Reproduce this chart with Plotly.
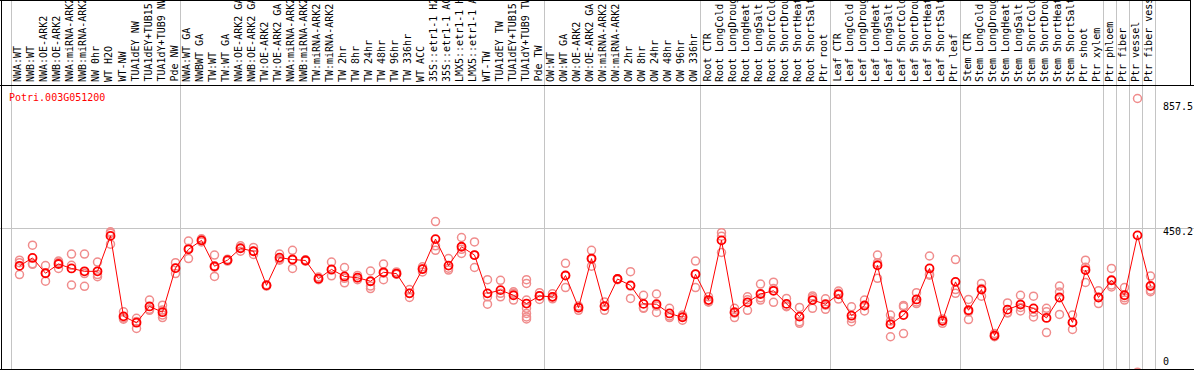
import plotly.graph_objects as go

# ---------------- data ----------------
gene_id = "Potri.003G051200"

samples = [
    "NWA:WT", "NWB:WT", "NWA:OE-ARK2", "NWB:OE-ARK2", "NWA:miRNA-ARK2", "NWB:miRNA-ARK2",
    "NW 0hr", "WT H2O", "WT-NW", "TUA1dEY NW", "TUA1dEY+TUB15 NW", "TUA1dY+TUB9 NW", "Pde NW",
    "NWA:WT GA", "NWBWT GA", "TW:WT", "TW:WT GA", "NWA:OE-ARK2 GA", "NWB:OE-ARK2 GA",
    "TW:OE-ARK2", "TW:OE-ARK2 GA", "NWA:miRNA-ARK2 GA", "NWB:miRNA-ARK2 GA", "TW:miRNA-ARK2",
    "TW:miRNA-ARK2 GA", "TW 2hr", "TW 8hr", "TW 24hr", "TW 48hr", "TW 96hr", "TW 336hr",
    "WT ACC", "35S::etr1-1 H2O", "35S::etr1-1 ACC", "LMX5::etr1-1 H2O", "LMX5::etr1-1 ACC",
    "WT-TW", "TUA1dEY TW", "TUA1dEY+TUB15 TW", "TUA1dY+TUB9 TW", "Pde TW",
    "OW:WT", "OW:WT GA", "OW:OE-ARK2", "OW:OE-ARK2 GA", "OW:miRNA-ARK2", "OW:miRNA-ARK2 GA",
    "OW 2hr", "OW 8hr", "OW 24hr", "OW 48hr", "OW 96hr", "OW 336hr",
    "Root CTR", "Root LongCold", "Root LongDrought", "Root LongHeat", "Root LongSalt",
    "Root ShortCold", "Root ShortDrought", "Root ShortHeat", "Root ShortSalt", "Ptr root",
    "Leaf CTR", "Leaf LongCold", "Leaf LongDrought", "Leaf LongHeat", "Leaf LongSalt",
    "Leaf ShortCold", "Leaf ShortDrought", "Leaf ShortHeat", "Leaf ShortSalt", "Ptr leaf",
    "Stem CTR", "Stem LongCold", "Stem LongDrought", "Stem LongHeat", "Stem LongSalt",
    "Stem ShortCold", "Stem ShortDrought", "Stem ShortHeat", "Stem ShortSalt", "Ptr shoot",
    "Ptr xylem", "Ptr phloem", "Ptr fiber", "Ptr vessel", "Ptr fiber vessel",
]

mean_values = [
    333, 358, 310, 339, 325, 316, 316, 427, 175, 155, 206, 188, 326,
    385, 413, 332, 351, 388, 379, 272, 359, 353, 350, 293, 322, 300, 296, 285, 313, 309,
    247, 323, 417, 334, 393, 367, 247, 257, 241, 215, 239,
    236, 303, 202, 356, 207, 292, 272, 214, 213, 184, 172, 307,
    226, 413, 188, 219, 245, 255, 214, 174, 226, 213,
    244, 177, 209, 335, 150, 179, 228, 325, 161, 283,
    194, 259, 115, 196, 212, 200, 170, 234, 156, 320,
    234, 288, 241, 428.75, 270,
]

replicate_values = [
    [351, 343, 306], [398, 338, 340], [334, 310, 285], [348, 344, 325], [370, 335, 273],
    [370, 309, 269], [345, 299, 306], [440, 435, 401], [189, 170, 166], [169, 159, 137],
    [226, 197, 194], [210, 195, 179, 171], [343, 326, 309],
    [411, 388, 356], [418, 413, 408], [367, 329, 300], [354, 351, 348], [396, 390, 379],
    [391, 379, 369], [274, 272, 270], [370, 354, 351], [382, 353, 325], [352, 350, 348],
    [298, 292, 290], [345, 320, 302], [328, 294, 280], [303, 296, 290], [317, 270, 262],
    [339, 310, 290], [314, 307, 307], [259, 247, 234], [330, 323, 314], [472, 396, 382],
    [356, 326, 320], [422, 385, 372], [408, 366, 328], [290, 236, 213], [288, 247, 236],
    [252, 247, 226], [290, 278, 226, 200, 184, 173, 167], [249, 239, 228],
    [246, 236, 230], [341, 303, 265], [207, 202, 194], [382, 354, 332], [220, 206, 194],
    [293, 292, 290], [315, 270, 231], [241, 202, 200], [245, 207, 187], [200, 176, 171],
    [179, 174, 163], [348, 307, 265],
    [236, 220, 220], [437, 426, 375], [200, 185, 171], [236, 227, 194], [276, 233, 226],
    [282, 262, 219], [231, 207, 205], [203, 158, 153], [239, 233, 200], [230, 210, 197],
    [254, 247, 229], [205, 168, 158], [226, 209, 192], [367, 343, 294], [179, 160, 111],
    [209, 205, 121], [249, 220, 215], [364, 307, 304], [167, 161, 153], [353, 259, 247],
    [228, 189, 165], [278, 262, 238], [121, 113, 111], [217, 186, 186], [241, 203, 192],
    [238, 188, 173], [200, 189, 124], [270, 251, 181], [179, 155, 134], [351, 329, 281],
    [255, 234, 215], [325, 273, 267], [265, 233, 226], [857.5, 0], [301, 257, 252],
]

# index of the first sample of each group (last entry = end)
group_starts = [0, 13, 41, 53, 63, 73, 84, 85, 86, 87, 88]
y_tick_values = [857.5, 450.2, 0]
y_tick_labels = ["857.5", "450.2", "0"]
grid_value = 450.2

# ---------------- styling / geometry ----------------
W, H = 1194, 370
TOP, BOT = 85, 369          # plot area pixel rows
FONT = "DejaVu Sans Mono"
GRAY = "#C4C4C4"
RED = "#FF0000"
REP = "#F08C8C"


def px(p):
    return p / W


def py(p):
    return (BOT - p) / (BOT - TOP)


x_range = [-1.5, (W - 19.5) / 13.0]
y_range = [10.0, 899.8]


def y_to_pixel(v):
    return TOP + (y_range[1] - v) / (y_range[1] - y_range[0]) * (BOT - TOP)


fig = go.Figure()

rx, ry = [], []
for i, reps in enumerate(replicate_values):
    for r in reps:
        rx.append(i)
        ry.append(r)

fig.add_trace(go.Scatter(
    x=rx, y=ry, mode="markers",
    marker=dict(symbol="circle-open", size=8, color=REP, line=dict(width=1.5, color=REP)),
    hoverinfo="skip", showlegend=False,
))
fig.add_trace(go.Scatter(
    x=list(range(len(samples))), y=mean_values, mode="lines+markers",
    line=dict(color=RED, width=1),
    marker=dict(symbol="circle-open", size=8, color=RED, line=dict(width=1.8, color=RED)),
    showlegend=False,
))

shapes = []
# group separators (gray vertical lines through labels and plot)
for b in group_starts:
    shapes.append(dict(type="line", xref="x", yref="paper",
                       x0=b - 8 / 13, x1=b - 8 / 13, y0=py(369.5), y1=py(0),
                       line=dict(color=GRAY, width=1), layer="below"))
# horizontal grid line
shapes.append(dict(type="line", xref="paper", yref="y", x0=0, x1=1,
                   y0=grid_value, y1=grid_value, line=dict(color=GRAY, width=1), layer="below"))
# black frame lines
black = dict(color="black", width=1)
shapes += [
    dict(type="line", xref="paper", yref="paper", x0=0, x1=1, y0=py(85.5), y1=py(85.5), line=black),
    dict(type="line", xref="paper", yref="paper", x0=0, x1=1, y0=py(369.5), y1=py(369.5), line=black),
    dict(type="line", xref="paper", yref="paper", x0=px(1.5), x1=px(1.5), y0=py(0), y1=py(369.5), line=black),
    dict(type="line", xref="paper", yref="paper", x0=0, x1=px(1190.5), y0=py(0.5), y1=py(0.5), line=black),
    dict(type="line", xref="paper", yref="paper", x0=px(1190.5), x1=px(1190.5), y0=py(0), y1=py(85.5), line=black),
]

annotations = []
for i, name in enumerate(samples):
    annotations.append(dict(
        x=i, xref="x", xshift=-1.5, y=py(84), yref="paper", yanchor="bottom", xanchor="center",
        text=name, textangle=-90, showarrow=False,
        font=dict(family=FONT, size=10, color="black"),
    ))

# tick labels on the right (positions follow the data scale, nudged like the original)
shifts = [8.2, 3.2, -10.5]
for v, lab, s in zip(y_tick_values, y_tick_labels, shifts):
    annotations.append(dict(
        x=px(1161), xref="paper", xanchor="left", y=py(y_to_pixel(v) + s), yref="paper",
        yanchor="middle", text=lab, showarrow=False,
        font=dict(family=FONT, size=10, color="black"),
    ))

annotations.append(dict(
    x=px(7), xref="paper", xanchor="left", y=py(97.5), yref="paper", yanchor="middle",
    text=gene_id, showarrow=False, font=dict(family=FONT, size=10, color=RED),
))

fig.update_layout(
    width=W, height=H,
    margin=dict(l=0, r=0, t=TOP, b=H - BOT, pad=0),
    paper_bgcolor="white", plot_bgcolor="white",
    xaxis=dict(range=x_range, visible=False, fixedrange=True),
    yaxis=dict(range=y_range, visible=False, fixedrange=True),
    shapes=shapes, annotations=annotations,
)

fig.write_html(
    "out.html",
    config={"displayModeBar": False},
    post_script="document.body.style.margin='0';document.body.style.padding='0';"
                "document.body.style.overflow='hidden';",
)
